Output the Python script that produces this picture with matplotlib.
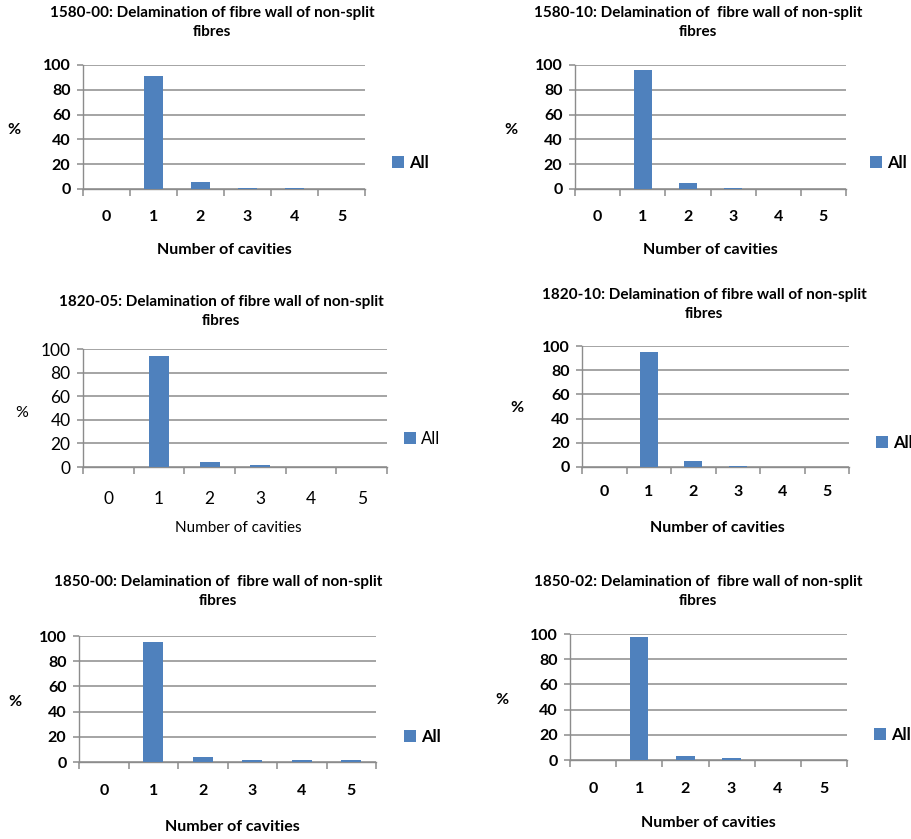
import matplotlib
matplotlib.use("Agg")
import matplotlib.pyplot as plt

W, H = 911, 839
DPI = 100

categories = ["0", "1", "2", "3", "4", "5"]
yticks = [0, 20, 40, 60, 80, 100]
series_name = "All"
xlabel = "Number of cavities"
ylabel = "%"

titles = [
    "1580-00: Delamination of fibre wall of non-split\nfibres",
    "1580-10: Delamination of  fibre wall of non-split\nfibres",
    "1820-05: Delamination of fibre wall of non-split\nfibres",
    "1820-10: Delamination of fibre wall of non-split\nfibres",
    "1850-00: Delamination of  fibre wall of non-split\nfibres",
    "1850-02: Delamination of  fibre wall of non-split\nfibres",
]
vals_1580_00 = [0, 91, 6, 1, 1, 0]
vals_1580_10 = [0, 96, 5, 1.2, 0, 0]
vals_1820_05 = [0, 94, 4, 1.5, 0, 0]
vals_1820_10 = [0, 95, 5, 1.2, 0, 0]
vals_1850_00 = [0, 95, 4, 1.2, 1.2, 1.2]
vals_1850_02 = [0, 98, 3, 1.2, 0, 0]
all_vals = [vals_1580_00, vals_1580_10, vals_1820_05, vals_1820_10, vals_1850_00, vals_1850_02]

layouts = [
    dict(ax=(83, 365, 65, 189), tx=212, ty=13, xl=(224, 250), yl=(14, 130), lg=(392, 163), pad=15, bold=True),
    dict(ax=(575, 846, 65, 189), tx=698, ty=13, xl=(710, 250), yl=(511, 130), lg=(870, 163), pad=15, bold=True),
    dict(ax=(83, 387, 349, 467), tx=221, ty=302, xl=(238, 528), yl=(22, 413), lg=(404, 439), pad=17, bold=False),
    dict(ax=(582, 849, 346, 467), tx=704, ty=295, xl=(717, 528), yl=(517, 408), lg=(876, 443), pad=13, bold=True),
    dict(ax=(79, 376, 636, 762), tx=218, ty=582, xl=(232, 827), yl=(15, 702), lg=(404, 737), pad=16, bold=True),
    dict(ax=(570, 847, 634, 760), tx=698, ty=582, xl=(708, 823), yl=(502, 700), lg=(874, 735), pad=16, bold=True),
]

plt.rcParams['font.family'] = ['Lato', 'DejaVu Sans']
BAR = "#4F81BD"
GRID = "#8C8C8C"

fig = plt.figure(figsize=(W / DPI, H / DPI), dpi=DPI)
fig.patch.set_facecolor("white")

def fx(x):
    return x / W

def fy(y):
    return 1 - y / H

for title, vals, L in zip(titles, all_vals, layouts):
    l, r, t, b = L['ax']
    ax = fig.add_axes([fx(l), fy(b), (r - l) / W, (b - t) / H])
    wt = 'bold' if L['bold'] else 'normal'
    fs_tick = 11.5 if L['bold'] else 12.5
    x = list(range(len(categories)))
    ax.bar(x, vals, width=0.4, color=BAR, label=series_name, zorder=3)
    ax.set_xlim(-0.5, len(categories) - 0.5)
    ax.set_ylim(0, 100)
    ax.set_yticks(yticks)
    ax.set_yticklabels([str(v) for v in yticks], fontsize=fs_tick, fontweight=wt)
    ax.set_xticks(x)
    ax.set_xticklabels(categories, fontsize=fs_tick, fontweight=wt)
    ax.set_xticks([i - 0.5 for i in range(len(categories) + 1)], minor=True)
    ax.tick_params(axis='x', which='major', length=0, pad=L['pad'])
    ax.tick_params(axis='x', which='minor', length=5, color=GRID, direction='out', width=1.1)
    ax.tick_params(axis='y', length=4, color=GRID, pad=5, width=1.1)
    ax.grid(axis='y', color=GRID, linewidth=1.1, zorder=0)
    for s in ['top', 'right']:
        ax.spines[s].set_visible(False)
    for s in ['left', 'bottom']:
        ax.spines[s].set_color(GRID)
        ax.spines[s].set_linewidth(1.0)
        ax.spines[s].set_zorder(2)

    lines = title.split("\n")
    fig.text(fx(L['tx']), fy(L['ty']), lines[0], ha='center', va='center', fontsize=11, fontweight='bold')
    fig.text(fx(L['tx']), fy(L['ty'] + 19), lines[1], ha='center', va='center', fontsize=11, fontweight='bold')
    fig.text(fx(L['xl'][0]), fy(L['xl'][1]), xlabel, ha='center', va='center', fontsize=11.5 if L['bold'] else 11, fontweight=wt)
    fig.text(fx(L['yl'][0]), fy(L['yl'][1]), ylabel, ha='center', va='center', fontsize=11.5, fontweight=wt)
    ax.legend(loc='center left', bbox_to_anchor=(fx(L['lg'][0]), fy(L['lg'][1])), bbox_transform=fig.transFigure,
              frameon=False, borderpad=0, borderaxespad=0, handlelength=0.7, handleheight=0.7, handletextpad=0.3,
              prop={'size': 12, 'weight': wt})

fig.savefig("out.png", dpi=DPI, facecolor="white")
